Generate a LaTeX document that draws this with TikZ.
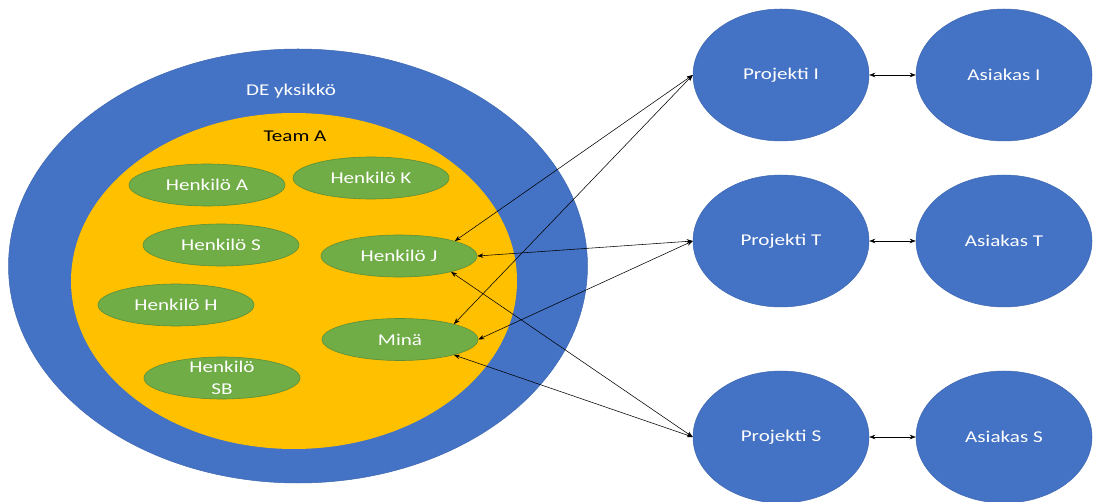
\documentclass[tikz,border=0pt]{standalone}
\usepackage{fontspec}
\setmainfont{Carlito}[FakeStretch=1.28]
\usetikzlibrary{shapes.geometric,arrows.meta}
\definecolor{ofblue}{HTML}{4472C4}
\definecolor{ofblueline}{HTML}{3D67B1}
\definecolor{oforange}{HTML}{FFC000}
\definecolor{ofgreen}{HTML}{70AD47}
\definecolor{ofgreenline}{HTML}{5B8F38}
\tikzset{
  bigblue/.style={ellipse, fill=ofblue, draw=ofblueline, line width=0.5pt, inner sep=0pt},
  team/.style={ellipse, fill=oforange, inner sep=0pt},
  person/.style={ellipse, fill=ofgreen, draw=ofgreenline, line width=0.6pt, inner sep=0pt,
    minimum width=156pt, minimum height=42pt, text=white},
  proj/.style={ellipse, fill=ofblue, draw=ofblueline, line width=0.5pt, inner sep=0pt,
    minimum width=176pt, minimum height=132pt, text=white},
  lbl/.style={inner sep=0pt, anchor=base},
  link/.style={draw=black, line width=0.55pt, {Stealth[length=6pt,width=4.5pt]}-{Stealth[length=6pt,width=4.5pt]}},
}
\begin{document}
\begin{tikzpicture}[x=1pt,y=-1pt,font=\fontsize{16.5}{22}\selectfont]
\useasboundingbox (0,0) rectangle (1095,502);
\node[bigblue, minimum width=579pt, minimum height=434pt] (DE) at (298,266) {};
\node[team, minimum width=446pt, minimum height=336pt] (TA) at (294,281) {};
\node[lbl, text=white] (DEl) at (291,96) {DE yksikkö};
\node[lbl, text=black] (TAl) at (295,141.5) {Team A};

\node[person] (A) at (207,185) {Henkilö A};
\node[person] (K) at (371,178) {Henkilö K};
\node[person] (S) at (221,245) {Henkilö S};
\node[person] (J) at (399,256) {Henkilö J};
\node[person] (H) at (176,305) {Henkilö H};
\node[person] (M) at (400,339.5) {Minä};
\node[person] (SB) at (222,378) {};
\node[align=center, text=white, inner sep=0pt] (SBt) at (SB.center) {Henkilö\\SB};

\node[proj] (PI) at (781,75) {Projekti I};
\node[proj] (AI) at (1004,75) {Asiakas I};
\node[proj] (PT) at (781,241) {Projekti T};
\node[proj] (AT) at (1004,241) {Asiakas T};
\node[proj] (PS) at (781,437) {Projekti S};
\node[proj] (AS) at (1004,437) {Asiakas S};

\draw[link] (PI.west) -- (J.15);
\draw[link] (PI.west) -- (M.16);
\draw[link] (PT.west) -- (J.east);
\draw[link] (PT.west) -- (M.east);
\draw[link] (PS.west) -- (J.-17);
\draw[link] (PS.west) -- (M.-16);

\draw[link] (PI.east) -- (AI.west);
\draw[link] (PT.east) -- (AT.west);
\draw[link] (PS.east) -- (AS.west);
\end{tikzpicture}
\end{document}
